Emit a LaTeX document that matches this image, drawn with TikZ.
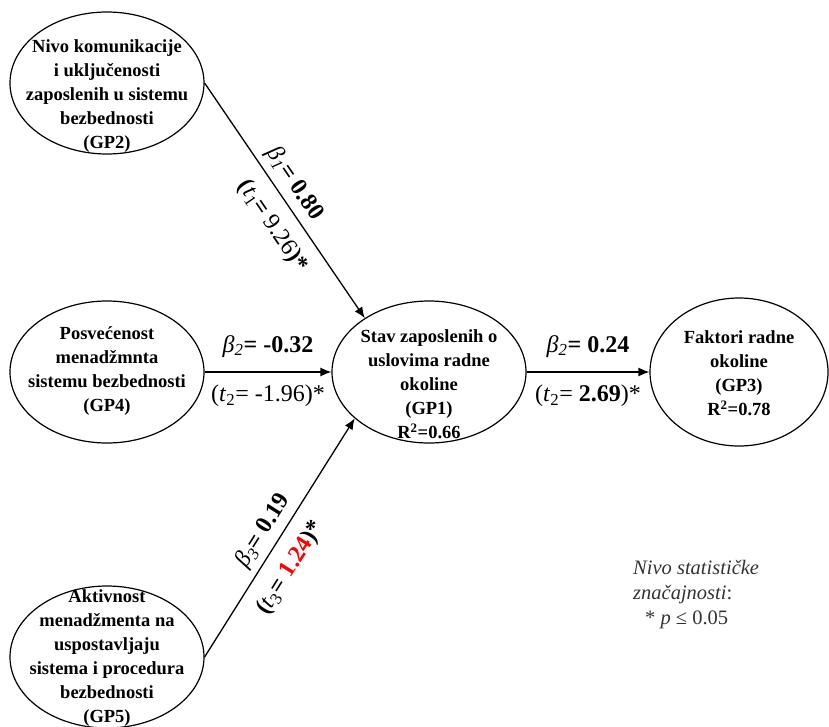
\documentclass[tikz,border=0pt]{standalone}
\usepackage{fontspec}
\setmainfont{Liberation Serif}
\usetikzlibrary{shapes.geometric,arrows.meta}

\begin{document}
\begin{tikzpicture}[x=1pt, y=-1pt,
    latent/.style={draw, ellipse, line width=1.2pt, minimum width=194pt, minimum height=142pt, inner sep=0pt},
    nodetext/.style={align=center, font=\fontsize{18.5}{24}\selectfont\bfseries},
    pathline/.style={-{Latex[length=11pt,width=9pt]}, line width=1.3pt},
    coef/.style={font=\fontsize{24}{28}\selectfont, inner sep=4pt}]
  \useasboundingbox (0,0) rectangle (829,726);

  % latent variables
  \node[latent] (gp2) at (107,83) {};
  \node[latent] (gp4) at (107,372) {};
  \node[latent] (gp5) at (107,657) {};
  \node[latent] (gp1) at (429,372) {};
  \node[latent, minimum width=178pt, minimum height=148pt] (gp3) at (739,372) {};

  \node[nodetext] (gp2txt) at (107,96) {Nivo komunikacije\\i uključenosti\\zaposlenih u sistemu\\bezbednosti\\(GP2)};
  \node[nodetext] (gp4txt) at (107,371) {Posvećenost\\menadžmnta\\sistemu bezbednosti\\(GP4)};
  \node[nodetext] (gp5txt) at (107,658) {Aktivnost\\menadžmenta na\\uspostavljaju\\sistema i procedura\\bezbednosti\\(GP5)};
  \node[nodetext] (gp1txt) at (429,384) {Stav zaposlenih o\\uslovima radne\\okoline\\(GP1)\\R\textsuperscript{2}=0.66};
  \node[nodetext] (gp3txt) at (739,373) {Faktori radne\\okoline\\(GP3)\\R\textsuperscript{2}=0.78};

  % paths
  \draw[pathline] (gp2.east) -- node[coef, sloped, above=2pt, pos=0.47] (b1) {\textit{β\textsubscript{1}}\textbf{= 0.80}}
    node[coef, sloped, below=9pt, pos=0.55] (t1) {\textbf{(}\textit{t}\textsubscript{1}\textbf{=} 9.26\textbf{)*}} (gp1.140);
  \draw[pathline] (gp4.east) -- node[coef, above=10pt] (b2) {\textit{β\textsubscript{2}}\textbf{= -0.32}}
    node[coef, below=8pt] (t2) {(\textit{t}\textsubscript{2}= -1.96)*} (gp1.west);
  \draw[pathline] (gp5.east) -- node[coef, sloped, above=2pt, pos=0.49] (b3) {\textit{β\textsubscript{3}}\textbf{= 0.19}}
    node[coef, sloped, below=10pt, pos=0.43] (t3) {\textbf{(}\textit{t}\textsubscript{3}\textbf{=} \textcolor{red}{\textbf{1.24}}\textbf{)*}} (gp1.212);
  \draw[pathline] (gp1.east) -- node[coef, above=10pt] (b4) {\textit{β\textsubscript{2}}\textbf{= 0.24}}
    node[coef, below=8pt] (t4) {(\textit{t}\textsubscript{2}= \textbf{2.69})*} (gp3.west);

  % significance note
  \node[anchor=north west, align=left, text=black!80, font=\fontsize{20.5}{25}\selectfont, inner sep=0pt] (note) at (633,560)
    {\textit{Nivo statističke}\\\textit{značajnosti}:\\\hspace{12pt}* \textit{p} ≤ 0.05};
\end{tikzpicture}
\end{document}
